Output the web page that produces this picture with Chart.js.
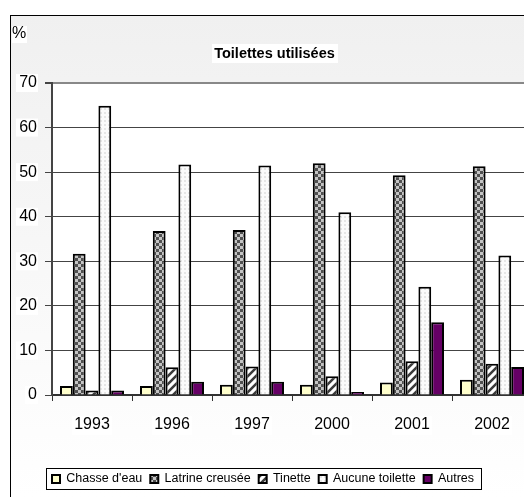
<!DOCTYPE html>
<html>
<head>
<meta charset="utf-8">
<script src="https://cdn.jsdelivr.net/npm/chart.js@4/dist/chart.umd.min.js"></script>
<style>
  html, body { margin: 0; padding: 0; background: #fff; overflow: hidden; }
  #wrap { width: 550px; height: 497px; }
</style>
</head>
<body>
<div id="wrap"><canvas id="chart" width="550" height="497"></canvas></div>
<script>
// Data
const years = ['1993', '1996', '1997', '2000', '2001', '2002'];
const chasseEau = [2.0, 2.0, 2.3, 2.3, 2.8, 3.4];
const latrineCreusee = [31.7, 36.8, 37.0, 52.0, 49.3, 51.3];
const tinette = [1.0, 6.2, 6.4, 4.2, 7.6, 7.0];
const aucuneToilette = [64.9, 51.7, 51.5, 41.0, 24.3, 31.3];
const autres = [1.0, 3.0, 3.0, 0.7, 16.3, 6.3];
const seriesLabels = ['Chasse d\'eau', 'Latrine creusée', 'Tinette', 'Aucune toilette', 'Autres'];
const yTicks = [0, 10, 20, 30, 40, 50, 60, 70];

const FONT = '"Liberation Sans", Arial, sans-serif';

// Fill patterns, Excel style
function makePattern(size, draw) {
    const c = document.createElement('canvas');
    c.width = size;
    c.height = size;
    const g = c.getContext('2d');
    draw(g, size);
    return g.createPattern(c, 'repeat');
}

const checkPattern = makePattern(6, (g, s) => {
    g.fillStyle = '#505050';
    g.fillRect(0, 0, s, s);
    g.fillStyle = '#c4c4c4';
    g.fillRect(0, 0, 3, 3);
    g.fillRect(3, 3, 3, 3);
});

const stripePattern = makePattern(8, (g, s) => {
    g.fillStyle = '#ffffff';
    g.fillRect(0, 0, s, s);
    g.strokeStyle = '#3a3a3a';
    g.lineWidth = 2.5;
    g.beginPath();
    g.moveTo(-2, s + 2); g.lineTo(s + 2, -2);
    g.moveTo(-2, 2); g.lineTo(2, -2);
    g.moveTo(s - 2, s + 2); g.lineTo(s + 2, s - 2);
    g.stroke();
});

const dotPattern = makePattern(4, (g, s) => {
    g.fillStyle = '#fbfbfb';
    g.fillRect(0, 0, s, s);
    g.fillStyle = '#e6e6e6';
    g.fillRect(0, 0, 2, 2);
});

// Background, frame, label backdrops, legend box
const frame = {
    id: 'frame',
    afterLayout(chart) {
        // legend sits a bit left of the chart centre in the original
        chart.legend.right -= 23;
    },
    beforeDraw(chart) {
        const { ctx, chartArea: a, width, height } = chart;
        ctx.save();
        const grad = ctx.createLinearGradient(0, 15, 0, height);
        grad.addColorStop(0, '#f0f0f0');
        grad.addColorStop(1, '#ffffff');
        ctx.fillStyle = '#ffffff';
        ctx.fillRect(0, 0, width, height);
        ctx.fillStyle = grad;
        ctx.fillRect(10, 15, width, height);
        ctx.strokeStyle = '#000';
        ctx.lineWidth = 1;
        ctx.strokeRect(10.5, 15.5, width + 20, height + 20);

        // plot area
        ctx.fillStyle = '#ffffff';
        ctx.fillRect(a.left, a.top, a.right - a.left, a.bottom - a.top);

        // white backdrops under texts
        const y = chart.scales.y;
        yTicks.forEach(v => {
            const py = y.getPixelForValue(v);
            const w = v === 0 ? 11 : 20;
            ctx.fillRect(37 - w - 1, py - 9, w + 2, 18);
        });
        const x = chart.scales.x;
        years.forEach((lab, i) => {
            const px = x.getPixelForValue(i);
            ctx.fillRect(px - 20, 416, 40, 19);
        });
        ctx.fillRect(12, 26, 15, 17);
        ctx.fillRect(212, 44, 126, 19);

        // legend box
        const hb = chart.legend.legendHitBoxes;
        if (hb && hb.length) {
            const first = hb[0];
            const last = hb[hb.length - 1];
            const lx = Math.round(first.left) - 6;
            const rx = Math.round(last.left + last.width) + 7;
            const ty = Math.round(first.top) - 5;
            const by = Math.round(first.top + first.height) + 4;
            ctx.fillRect(lx, ty, rx - lx, by - ty);
            ctx.strokeRect(lx + 0.5, ty + 0.5, rx - lx, by - ty);
        }

        // y unit
        ctx.fillStyle = '#000';
        ctx.font = '16px ' + FONT;
        ctx.textBaseline = 'middle';
        ctx.fillText('%', 12, 34);
        ctx.restore();
    }
};

const colors = ['#ffffcc', checkPattern, stripePattern, dotPattern, '#660066'];
const values = [chasseEau, latrineCreusee, tinette, aucuneToilette, autres];

new Chart(document.getElementById('chart'), {
    type: 'bar',
    data: {
        labels: years,
        datasets: values.map((data, i) => ({
            label: seriesLabels[i],
            data,
            backgroundColor: colors[i],
            borderColor: '#000',
            borderWidth: 2,
            barPercentage: 1,
            categoryPercentage: 0.8
        }))
    },
    options: {
        responsive: false,
        animation: false,
        devicePixelRatio: 1,
        layout: { padding: { left: 17, right: 18, top: 0, bottom: 1.75 } },
        plugins: {
            title: {
                display: true,
                text: 'Toilettes utilisées',
                color: '#000',
                font: { family: FONT, size: 14.5, weight: 'bold' },
                padding: { top: 44.8, bottom: 20.8 }
            },
            legend: {
                position: 'bottom',
                labels: {
                    color: '#000',
                    font: { family: FONT, size: 12.5 },
                    boxWidth: 8,
                    boxHeight: 8,
                    padding: 8,
                    generateLabels(chart) {
                        return Chart.defaults.plugins.legend.labels.generateLabels(chart)
                            .map(l => ({ ...l, lineWidth: 2 }));
                    }
                }
            },
            tooltip: { enabled: false }
        },
        scales: {
            x: {
                afterFit(scale) { scale.height = 69.75; },
                grid: {
                    drawOnChartArea: false,
                    drawTicks: true,
                    tickLength: 6,
                    color: '#333'
                },
                border: { color: '#333', width: 2 },
                ticks: {
                    color: '#000',
                    font: { family: FONT, size: 16 },
                    padding: 14
                }
            },
            y: {
                min: 0,
                max: 70,
                afterFit(scale) { scale.width = 35; },
                afterBuildTicks(scale) { scale.ticks = yTicks.map(v => ({ value: v })); },
                grid: {
                    color: ctx => ctx.tick && ctx.tick.value === 70 ? '#888' : '#444',
                    lineWidth: ctx => ctx.tick && ctx.tick.value === 70 ? 2 : 1,
                    tickLength: 7,
                    tickColor: '#444'
                },
                border: { color: '#444', width: 2 },
                ticks: {
                    color: '#000',
                    font: { family: FONT, size: 16 },
                    padding: 8,
                    stepSize: 10
                }
            }
        }
    },
    plugins: [frame]
});
</script>
</body>
</html>
